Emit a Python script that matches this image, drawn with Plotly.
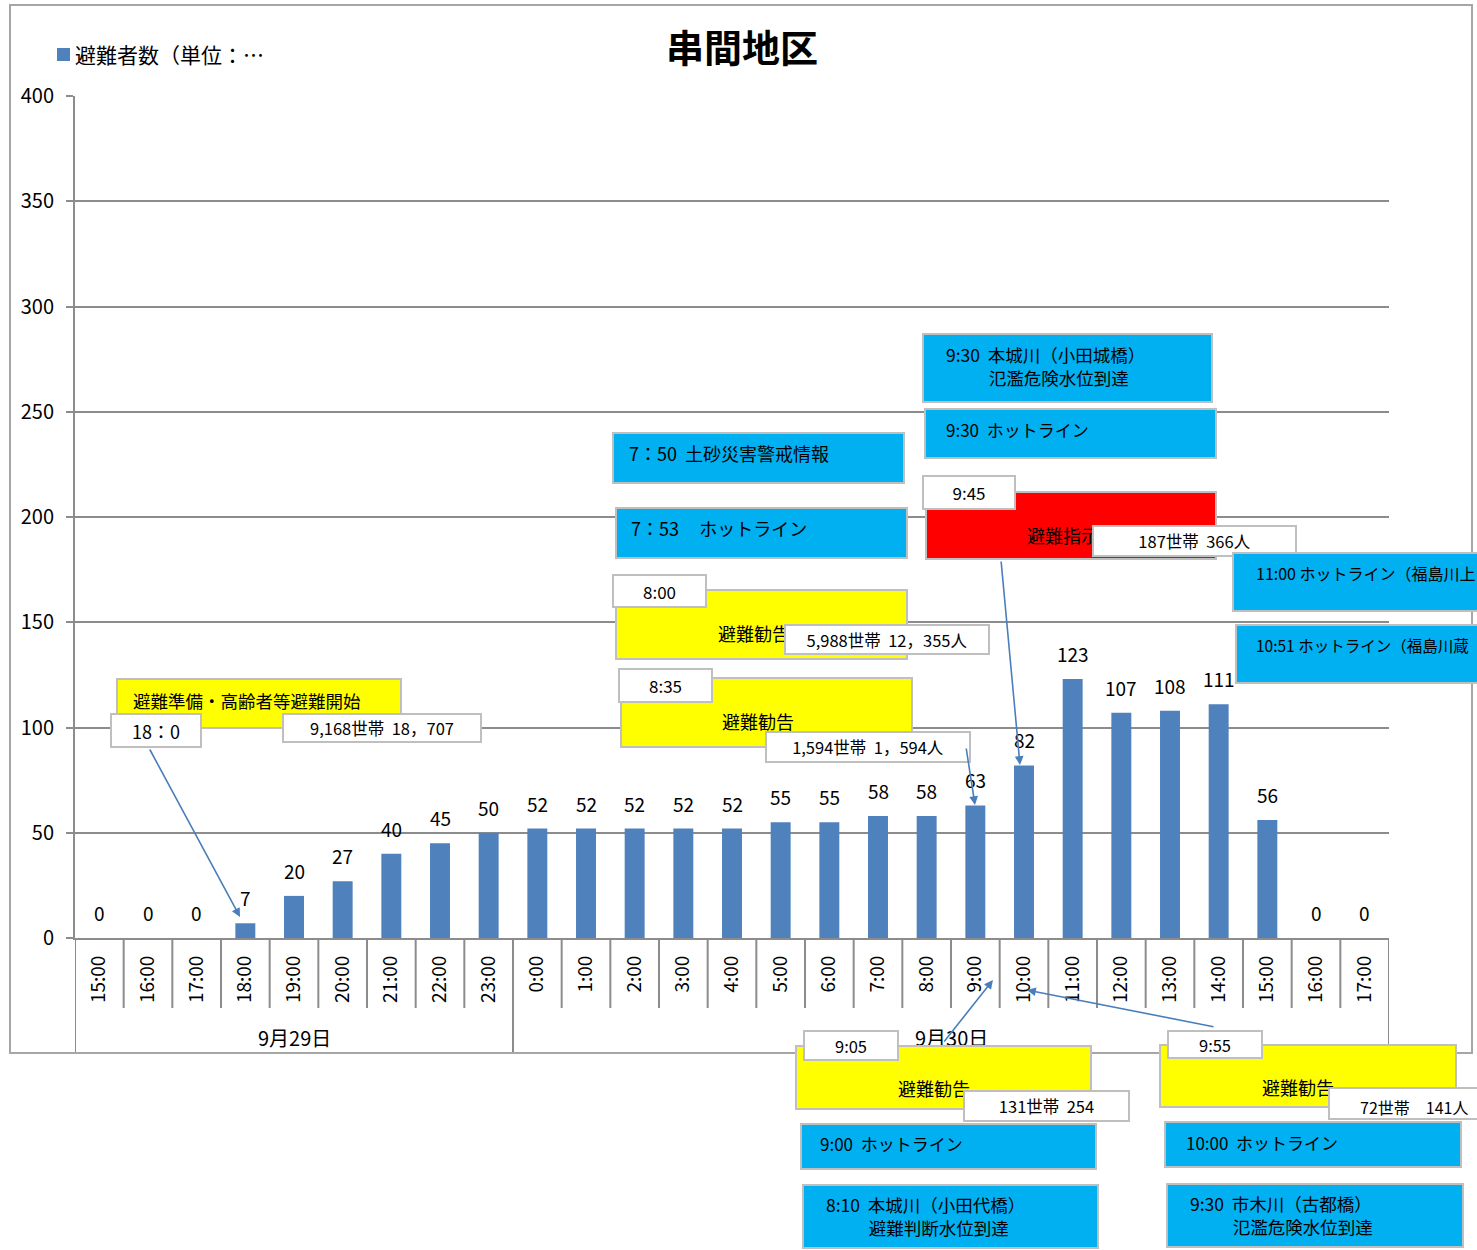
import plotly.graph_objects as go

# ---------------- data ----------------
times = ["15:00", "16:00", "17:00", "18:00", "19:00", "20:00", "21:00", "22:00", "23:00",
         "0:00", "1:00", "2:00", "3:00", "4:00", "5:00", "6:00", "7:00", "8:00",
         "9:00", "10:00", "11:00", "12:00", "13:00", "14:00", "15:00", "16:00", "17:00"]
evacuees = [0, 0, 0, 7, 20, 27, 40, 45, 50,
            52, 52, 52, 52, 52, 55, 55, 58, 58,
            63, 82, 123, 107, 108, 111, 56, 0, 0]
day_labels = ["9月29日", "9月30日"]
day_sizes = [9, 18]
series_name = "避難者数（単位：…"
title_text = "串間地区"
y_ticks = [0, 50, 100, 150, 200, 250, 300, 350, 400]

# ---------------- layout helpers ----------------
W, H = 1477, 1250
PL, PT, PR, PB = 75, 96, 1389, 938          # plot-area pixel box
FONT = "Noto Sans CJK JP"
GRID = "#8c8c8c"
BORDER = "#bfbfbf"
BLUE = "#00b0f0"
YELLOW = "#ffff00"
RED = "#ff0000"
ARROW = "#4a7ebb"
NB = "\u00a0"
IS = "\u3000"


def px(x):
    return (x - PL) / (PR - PL)


def py(y):
    return (PB - y) / (PB - PT)


n = len(times)
xpos = list(range(n))

fig = go.Figure()
fig.add_trace(go.Bar(
    x=xpos, y=evacuees, name=series_name,
    marker=dict(color="#4f81bd", line=dict(width=0)),
    width=0.41, showlegend=False,
))

annotations = []
shapes = []

# data labels
for i, v in zip(xpos, evacuees):
    annotations.append(dict(
        x=i, y=v, xref="x", yref="y", text=str(v), showarrow=False,
        xanchor="center", yanchor="bottom", yshift=12,
        font=dict(family=FONT, size=19, color="#000"),
        borderpad=0, borderwidth=0,
    ))

# category dividers and day groups
bounds = [0]
for s in day_sizes:
    bounds.append(bounds[-1] + s)
for b in range(n + 1):
    long_line = b in bounds
    shapes.append(dict(
        type="line", xref="x", yref="paper", x0=b - 0.5, x1=b - 0.5,
        y0=0, y1=py(1053 if long_line else 1008),
        line=dict(color=GRID, width=2),
    ))
shapes.append(dict(type="line", xref="x", yref="paper", x0=-0.5, x1=n - 0.5,
                   y0=py(1053), y1=py(1053), line=dict(color=GRID, width=2)))
for lab, a, b in zip(day_labels, bounds[:-1], bounds[1:]):
    annotations.append(dict(
        x=(a + b - 1) / 2, y=py(1037), xref="x", yref="paper", text=lab,
        showarrow=False, xanchor="center", yanchor="middle",
        font=dict(family=FONT, size=20, color="#000"),
    ))

# outer chart border
shapes.append(dict(type="rect", xref="paper", yref="paper",
                   x0=px(10), x1=px(1472), y0=py(5), y1=py(1053),
                   line=dict(color="#a6a6a6", width=2), fillcolor="rgba(0,0,0,0)"))

# legend (manual)
shapes.append(dict(type="rect", xref="paper", yref="paper",
                   x0=px(57), x1=px(70), y0=py(48), y1=py(61),
                   line=dict(width=0), fillcolor="#4f81bd"))
annotations.append(dict(
    x=px(75), y=py(54), xref="paper", yref="paper", text=series_name,
    showarrow=False, xanchor="left", yanchor="middle",
    font=dict(family=FONT, size=21, color="#000"), borderpad=0, borderwidth=0,
))


def box(x0, y0, x1, y1, fill, text=" ", fs=17, bw=2):
    annotations.append(dict(
        xref="paper", yref="paper", x=px(x0), y=py(y0),
        xanchor="left", yanchor="top",
        width=max(x1 - x0 - 2 * bw, 1), height=max(y1 - y0 - 2 * bw, 1),
        text=text, showarrow=False, bgcolor=fill, bordercolor=BORDER,
        borderwidth=bw, borderpad=0, align="center", valign="middle",
        font=dict(family=FONT, size=fs, color="#000"),
    ))


def label(x, y, s, fs=18):
    annotations.append(dict(
        xref="paper", yref="paper", x=px(x), y=py(y), text=s,
        showarrow=False, xanchor="left", yanchor="middle", align="left",
        borderpad=0, borderwidth=0,
        font=dict(family=FONT, size=fs, color="#000"),
    ))


def arrow(tx, ty, hx, hy):
    annotations.append(dict(
        xref="paper", yref="paper", x=px(hx), y=py(hy), ax=tx - hx, ay=ty - hy,
        text="", showarrow=True, arrowhead=2, arrowsize=1.1, arrowwidth=1.6,
        arrowcolor=ARROW, standoff=0, startstandoff=0,
    ))


# 18:00 group
box(116, 678, 402, 729, YELLOW)
label(133, 700, "避難準備・高齢者等避難開始", 17.5)
box(110, 713, 202, 748, "white", "18：0", 18)
box(282, 713, 482, 743, "white", "9,168世帯" + NB * 2 + "18，707", 16.5)

# 7:50 / 7:53
box(612, 432, 905, 484, BLUE)
label(629, 453, "7：50" + NB * 2 + "土砂災害警戒情報", 18)
box(615, 507, 908, 559, BLUE)
label(631, 528, "7：53" + NB * 5 + "ホットライン", 18)

# 8:00
box(615, 589, 908, 660, YELLOW)
label(718, 633, "避難勧告", 18)
box(612, 574, 707, 608, "white", "8:00", 17)
box(784, 624, 990, 655, "white", "5,988世帯" + NB * 2 + "12，355人", 16.5)

# 8:35
box(620, 677, 913, 748, YELLOW)
label(722, 721, "避難勧告", 18)
box(618, 668, 713, 703, "white", "8:35", 17)
box(765, 731, 971, 763, "white", "1,594世帯" + NB * 2 + "1，594人", 16.5)

# 9:30 Honjo river
box(922, 333, 1213, 403, BLUE)
label(946, 366, "9:30" + NB * 2 + "本城川（小田城橋）<br>" + IS * 2 + NB * 2 + "氾濫危険水位到達", 17.5)
box(924, 408, 1217, 459, BLUE)
label(946, 429, "9:30" + NB * 2 + "ホットライン", 17)

# 9:45 evacuation order
box(925, 491, 1217, 560, RED)
label(1027, 535, "避難指示", 18)
box(922, 475, 1016, 510, "white", "9:45", 17)
box(1092, 525, 1297, 557, "white", "187世帯" + NB * 2 + "366人", 16.5)

# 11:00 / 10:51 hotlines (cut off by the right edge, as in the original)
box(1232, 552, 1530, 612, BLUE)
label(1256, 573, "11:00 ホットライン（福島川上", 16)
box(1235, 624, 1530, 684, BLUE)
label(1256, 645, "10:51" + NB + "ホットライン（福島川蔵", 15.5)

# 9:05 (below axis)
box(795, 1045, 1092, 1110, YELLOW)
label(898, 1088, "避難勧告", 18)
box(803, 1030, 899, 1061, "white", "9:05", 16.5)
box(963, 1090, 1130, 1122, "white", "131世帯" + NB * 2 + "254", 16.5)
box(800, 1123, 1097, 1170, BLUE)
label(820, 1143, "9:00" + NB * 2 + "ホットライン", 17)
box(802, 1184, 1099, 1249, BLUE)
label(826, 1216, "8:10" + NB * 2 + "本城川（小田代橋）<br>" + IS * 2 + NB * 2 + "避難判断水位到達", 17.5)

# 9:55 (below axis)
box(1159, 1044, 1457, 1108, YELLOW)
label(1262, 1087, "避難勧告", 18)
box(1167, 1030, 1263, 1059, "white", "9:55", 16.5)
box(1328, 1087, 1520, 1120, "white")
label(1360, 1107, "72世帯" + IS + "141人", 16)
box(1164, 1121, 1462, 1168, BLUE)
label(1186, 1142, "10:00" + NB * 2 + "ホットライン", 17)
box(1166, 1183, 1464, 1248, BLUE)
label(1190, 1215, "9:30" + NB * 2 + "市木川（古都橋）<br>" + IS * 2 + NB * 2 + "氾濫危険水位到達", 17.5)

# arrows
arrow(149, 748, 240, 917)
arrow(1001, 560, 1020, 765)
arrow(966, 747, 975, 805)
arrow(943, 1043, 993, 980)
arrow(1215, 1027, 1027, 990)

fig.update_layout(
    width=W, height=H, autosize=False,
    margin=dict(l=PL, r=W - PR, t=PT, b=H - PB, pad=0),
    paper_bgcolor="white", plot_bgcolor="white",
    title=dict(text="<b>" + title_text + "</b>", x=px(742), xref="paper", xanchor="center",
               y=1 - 49 / H, yref="container", yanchor="middle",
               font=dict(family=FONT, size=38, color="#000")),
    font=dict(family=FONT, color="#000"),
    xaxis=dict(range=[-0.5, n - 0.5], tickmode="array", tickvals=xpos, ticktext=times,
               tickangle=-90, ticks="", showgrid=False, zeroline=False,
               showline=True, linecolor=GRID, linewidth=2,
               tickfont=dict(family=FONT, size=19, color="#000"), ticklabelstandoff=8),
    yaxis=dict(range=[0, 400], tickmode="array", tickvals=y_ticks,
               showgrid=True, gridcolor=GRID, gridwidth=2, zeroline=False,
               showline=True, linecolor=GRID, linewidth=2,
               ticks="outside", ticklen=7, tickwidth=2, tickcolor=GRID,
               tickfont=dict(family=FONT, size=20, color="#000"), ticklabelstandoff=8),
    annotations=annotations,
    shapes=shapes,
)

fig.write_html("out.html", config={"displayModeBar": False},
               post_script="document.body.style.margin='0px';")
